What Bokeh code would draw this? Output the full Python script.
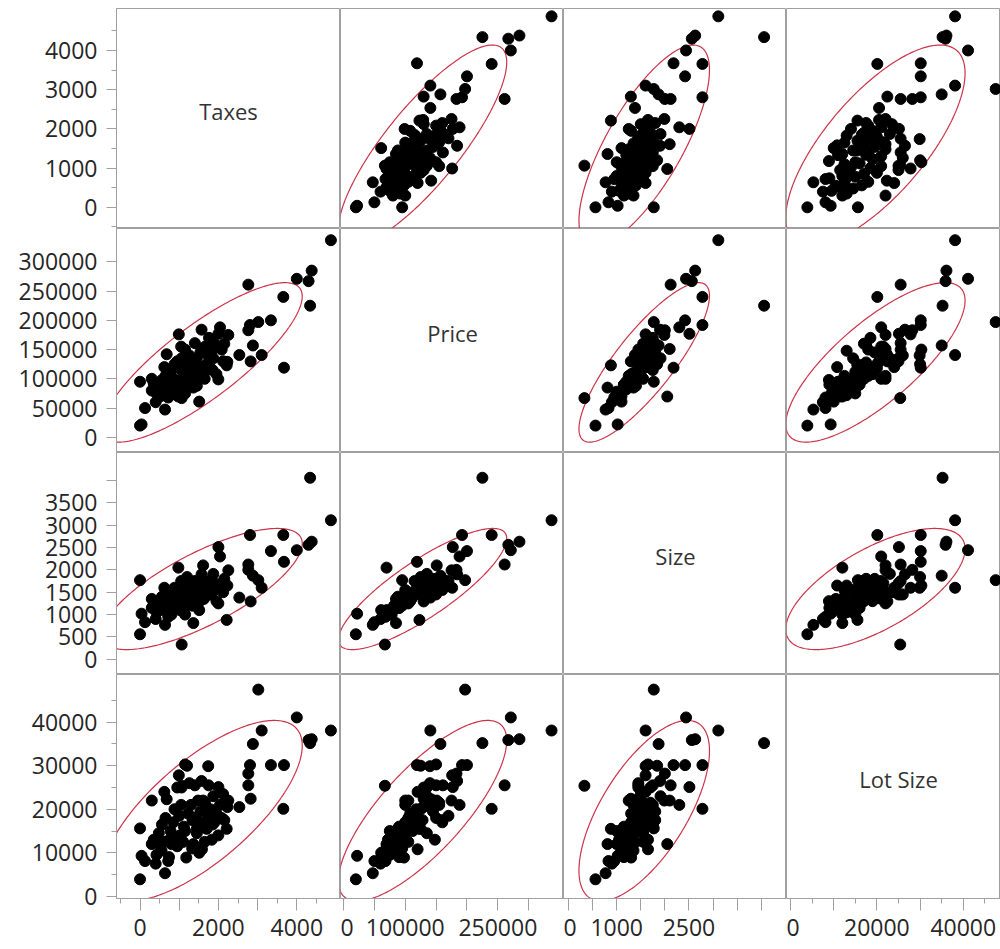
import numpy as np
from bokeh.plotting import figure
from bokeh.layouts import gridplot
from bokeh.models import FixedTicker, Label, Range1d, BasicTickFormatter, ColumnDataSource
from bokeh.embed import file_html
from bokeh.resources import INLINE

# ---------------- data ----------------
names = ["Taxes", "Price", "Size", "Lot Size"]
columns = ["taxes", "price", "size", "lot_size"]

taxes = [4870, 4340, 4380, 4300, 4000, 3656, 3673, 2763, 2806, 3340, 3018, 3104, 2880, 2763, 2823,
         0, 0, 40, 128, 638, 1063, 990, 978,
         300, 350, 420, 480, 520, 560, 600, 650, 680, 720, 740, 780, 800, 850, 880, 900, 950, 1000,
         1020, 1060, 1100, 1120, 1150, 1180, 1200, 1230, 1260, 1300, 1340, 1360, 1400, 1420, 1450,
         1480, 1510, 1540, 1570, 1580, 1610, 1630, 1660, 1700, 1740, 1760, 1800, 1830, 1870, 1900,
         1950, 1998, 2000, 2041, 2083, 2120, 2211, 2228, 2253, 2534, 400, 550, 750, 950, 1150, 1330,
         1450, 1650, 1750, 1850, 2150, 1050, 620, 300]
price = [337000, 225000, 285000, 267000, 271000, 240000, 119000, 261000, 192000, 200000, 197000,
         140700, 157000, 183000, 129800,
         95000, 20000, 22000, 50000, 47400, 67000, 176000, 69700,
         80000, 92000, 75000, 88000, 70000, 98000, 82000, 105000, 142000, 68000, 90000, 112000, 78000,
         100000, 125000, 85000, 95000, 118000, 80000, 135000, 105000, 90000, 150000, 98000, 125000,
         112000, 140000, 100000, 128000, 85000, 161000, 115000, 135000, 105000, 61000, 145000, 184000,
         120000, 151000, 110000, 155000, 125000, 140000, 170000, 118000, 148000, 135000, 160000,
         108000, 99000, 177000, 188000, 150000, 130000, 123000, 129000, 175000, 140700, 60000, 85000,
         72000, 130000, 75000, 95000, 88000, 100000, 150000, 115000, 160000, 155000, 120000, 100000]
size = [3110, 4060, 2630, 2560, 2440, 2780, 2180, 2120, 2780, 2420, 1770, 1600, 1870, 2000, 1294,
        1770, 560, 1020, 830, 770, 330, 1600, 2050,
        1150, 1250, 1050, 1300, 1100, 1400, 1200, 1350, 1500, 950, 1150, 1450, 1000, 1300, 1600,
        1200, 1250, 1550, 1100, 1700, 1400, 1150, 1650, 1300, 1840, 1500, 1450, 1350, 1600, 810,
        1750, 1500, 1550, 1250, 1100, 1800, 1900, 1650, 2100, 1350, 1700, 1550, 1600, 1750, 1450,
        1650, 1910, 1550, 1300, 1250, 2510, 2300, 1700, 1500, 880, 1650, 1990, 1380, 900, 1350,
        1050, 1450, 1000, 1200, 1400, 1550, 1450, 1750, 1800, 1750, 1600, 1350]
lot_size = [38100, 35200, 36100, 35900, 41100, 20100, 30150, 25500, 30150, 30150, 47500, 38100,
            35000, 28200, 22420,
            15600, 3900, 9300, 8100, 5300, 25400, 27800, 12000,
            12000, 13000, 9500, 14500, 11500, 16500, 12500, 18000, 22300, 8100, 9000, 15000, 12000,
            17000, 20000, 13500, 11500, 18500, 14000, 25000, 12500, 16000, 30300, 8900, 30000,
            19000, 26000, 21000, 17500, 12000, 25500, 18000, 14500, 22000, 10000, 19500, 26500,
            10800, 22000, 17000, 21500, 15500, 29900, 18500, 20000, 13000, 23000, 17000, 19000,
            14000, 25100, 21000, 18000, 23500, 15500, 20500, 22000, 20500, 7500, 10500, 13000,
            25000, 15000, 11000, 15500, 12500, 25500, 16500, 17500, 21000, 24000, 22000]

# ---------------- tick labels ----------------
x_major = [[0, 1000, 2000, 3000, 4000],
           [0, 50000, 100000, 150000, 200000, 250000, 300000],
           [0, 500, 1000, 1500, 2000, 2500, 3000, 3500, 4000],
           [0, 10000, 20000, 30000, 40000]]
x_labelled = [[0, 2000, 4000], [0, 100000, 250000], [0, 1000, 2500], [0, 20000, 40000]]
x_minor = [[-500, 500, 1500, 2500, 3500, 4500], [], [], [5000, 15000, 25000, 35000, 45000]]

y_major = [[0, 1000, 2000, 3000, 4000],
           [0, 50000, 100000, 150000, 200000, 250000, 300000],
           [0, 500, 1000, 1500, 2000, 2500, 3000, 3500, 4000],
           [0, 10000, 20000, 30000, 40000]]
y_labelled = [[0, 1000, 2000, 3000, 4000],
              [0, 50000, 100000, 150000, 200000, 250000, 300000],
              [0, 500, 1000, 1500, 2000, 2500, 3000, 3500],
              [0, 10000, 20000, 30000, 40000]]
y_minor = [[-500, 500, 1500, 2500, 3500, 4500], [], [], [5000, 15000, 25000, 35000, 45000]]

# axis extents (full cell)
x_ranges = [(-600, 5115), (-4900, 358000), (-104, 4546), (-926, 50930)]
y_ranges = [(-540, 5070), (-26000, 357000), (-340, 4625), (-510, 50970)]

# ---------------- layout ----------------
LEFT = 116
TOP = 8
BOTTOM = 51
frame_w = [224, 223, 223, 214]
full_w = 224
frame_h = [220, 224, 222, 224]

GRAY = "#a0a0a0"
FONT = "Open Sans"
RED = "#cc3347"

src = ColumnDataSource(dict(taxes=taxes, price=price, size=size, lot_size=lot_size))
data = np.array([taxes, price, size, lot_size], dtype=float)
R95 = np.sqrt(-2.0 * np.log(0.05))


def xr_for(c):
    lo, hi = x_ranges[c]
    return lo, lo + (hi - lo) * frame_w[c] / full_w


def style_axis(ax, majors, labelled, minors, tick_out, standoff):
    ax.ticker = FixedTicker(ticks=majors, minor_ticks=minors)
    ax.formatter = BasicTickFormatter(use_scientific=False)
    ax.major_label_overrides = {t: (str(t) if t in labelled else "") for t in majors}
    ax.major_tick_out = tick_out
    ax.major_tick_in = 0
    ax.minor_tick_out = 5
    ax.minor_tick_in = 0
    ax.axis_line_color = GRAY
    ax.major_tick_line_color = GRAY
    ax.minor_tick_line_color = GRAY
    ax.major_label_text_font = FONT
    ax.major_label_text_font_size = "23px"
    ax.major_label_text_color = "#262626"
    ax.major_label_standoff = standoff


rows = []
for r in range(4):
    row = []
    for c in range(4):
        w = frame_w[c] + (LEFT if c == 0 else 0)
        h = frame_h[r] + (BOTTOM if r == 3 else 0) + (TOP if r == 0 else 0)
        x0, x1 = xr_for(c)
        p = figure(width=w, height=h,
                   x_range=Range1d(x0, x1), y_range=Range1d(*y_ranges[r]),
                   x_axis_location="below" if r == 3 else None,
                   y_axis_location="left" if c == 0 else None,
                   toolbar_location=None, output_backend="svg",
                   min_border_left=LEFT if c == 0 else 0,
                   min_border_bottom=BOTTOM if r == 3 else 0,
                   min_border_top=TOP if r == 0 else 0, min_border_right=0)
        p.xgrid.visible = False
        p.ygrid.visible = False
        p.outline_line_color = GRAY
        p.outline_line_width = 1
        p.background_fill_color = "white"
        p.border_fill_color = "white"
        if c == 0:
            style_axis(p.yaxis[0], y_major[r], y_labelled[r], y_minor[r], 10, 9)
        if r == 3:
            style_axis(p.xaxis[0], x_major[c], x_labelled[c], x_minor[c], 12, 8)

        if r == c:
            lo, hi = x_ranges[c]
            ylo, yhi = y_ranges[r]
            p.add_layout(Label(x=(lo + hi) / 2, y=(ylo + yhi) / 2, text=names[r],
                               text_align="center", text_baseline="middle", y_offset=8,
                               text_font=FONT, text_font_size="22px", text_color="#333333"))
        else:
            xv = data[c]
            yv = data[r]
            cov = np.cov(np.vstack([xv, yv]))
            L = np.linalg.cholesky(cov)
            t = np.linspace(0, 2 * np.pi, 241)
            circ = np.vstack([np.cos(t), np.sin(t)]) * R95
            ell = L @ circ
            ex = ell[0] + xv.mean()
            ey = ell[1] + yv.mean()
            p.line(ex, ey, line_color=RED, line_width=1.2)
            p.scatter(x=columns[c], y=columns[r], source=src, size=11,
                      fill_color="black", line_color="black")
        row.append(p)
    rows.append(row)

grid = gridplot(rows, toolbar_location=None)

open("out.html", "w").write(file_html(grid, INLINE))
